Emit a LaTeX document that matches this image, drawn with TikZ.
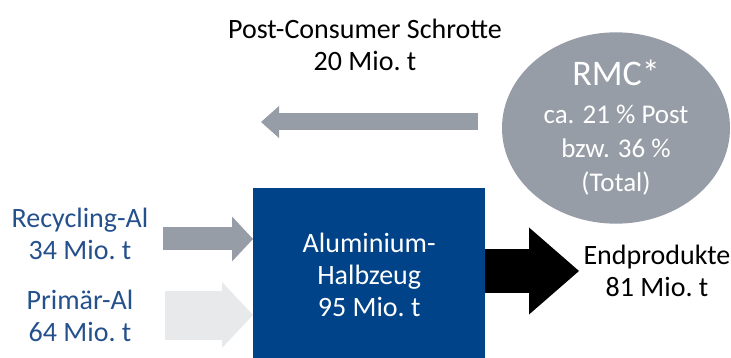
\documentclass[tikz,border=0pt]{standalone}
\usepackage{fontspec}
\setmainfont{Carlito}
\usetikzlibrary{arrows.meta,shapes.geometric}
\definecolor{alublue}{RGB}{0,67,136}
\definecolor{labelblue}{RGB}{36,80,140}
\definecolor{flowgray}{RGB}{151,157,166}
\definecolor{flowlight}{RGB}{232,233,235}
\begin{document}
\begin{tikzpicture}[x=1pt, y=-1pt, node distance=82, font=\fontsize{28}{32}\selectfont]
      \useasboundingbox (0,0) rectangle (731,358);
      \node[fill=alublue, text=white, align=center, anchor=north west, minimum width=232, minimum height=174] (halb) at (253,188) {Aluminium-\\Halbzeug\\95 Mio.~t};
      \node[text=labelblue, align=center]                 (recyc) at (80,234) {Recycling-Al\\34 Mio.~t};
      \node[text=labelblue, align=center, below of=recyc] (prim) {Primär-Al\\64 Mio.~t};
      \node[align=center] (endp) at (657,271) {Endprodukte\\81 Mio.~t};
      \node[align=center] (post) at (365,45) {Post-Consumer Schrotte\\20 Mio.~t};
      \node[ellipse, fill=flowgray, text=white, align=center, minimum width=228, minimum height=170, inner sep=0,
        font=\fontsize{27}{34}\selectfont] (rmc) at (616,128)
        {{\fontsize{36}{40}\selectfont RMC*}\\[4pt]ca. 21~\% Post\\bzw. 36~\%\\(Total)};
      \coordinate (r0) at (163,239);
      \coordinate (p0) at (165,315);
      \coordinate (s0) at (478,122);
      \coordinate (s1) at (261,122);
      \draw[flowgray, line width=23, -{Triangle[length=21pt, width=45pt, line width=0pt]}] (r0) to (r0 -| halb.west);
      \draw[flowlight, line width=49, -{Triangle[length=31pt, width=66pt, line width=0pt]}] (p0) to (p0 -| halb.west);
      \draw[black, line width=43, shorten >=1pt, -{Triangle[length=50pt, width=87pt, line width=0pt]}] (halb.east |- endp) to (endp.west);
      \draw[flowgray, line width=17, -{Triangle[length=18pt, width=32pt, line width=0pt]}] (s0) to (s1);
\end{tikzpicture}
\end{document}
